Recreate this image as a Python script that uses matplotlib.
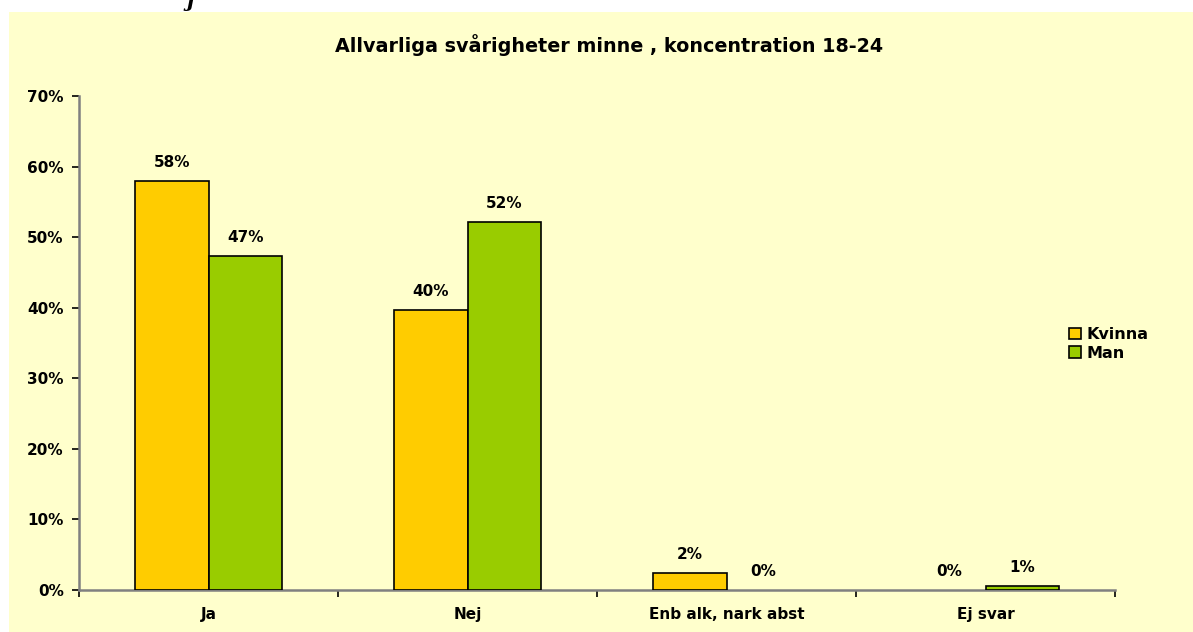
import numpy as np
import matplotlib.pyplot as plt
from matplotlib.patches import Rectangle

plt.rcParams['font.family'] = ['DejaVu Sans']
plt.rcParams['font.weight'] = 'bold'

# data
categories = ['Ja', 'Nej', 'Enb alk, nark abst', 'Ej svar']
kvinna = [57.9, 39.7, 2.4, 0.0]
man = [47.3, 52.1, 0.0, 0.6]
kvinna_labels = ['58%', '40%', '2%', '0%']
man_labels = ['47%', '52%', '0%', '1%']
series_names = ['Kvinna', 'Man']

bg = '#FFFFCC'
col_k = '#FFCC00'
col_m = '#99CC00'

fig = plt.figure(figsize=(11.93, 6.32), dpi=100)
fig.patch.set_facecolor('white')
# yellow chart area, like the excel chart box
box = Rectangle((9 / 1193, 0), 1, 1 - 12 / 632, transform=fig.transFigure,
                facecolor=bg, edgecolor='none', zorder=-5)
fig.add_artist(box)
# stray cut-off text from the page above (only its bottom shows)
fig.text(190 / 1193, 1 - 1 / 632, 'j', fontsize=15, style='italic', family='DejaVu Serif',
         ha='center', va='center')

ax = fig.add_axes([79 / 1193, 1 - 590 / 632, (1115 - 79) / 1193, (590 - 96) / 632])
ax.set_facecolor('none')
ax.set_zorder(2)

x = np.arange(len(categories))
w = 0.283
bars_k = ax.bar(x - w / 2, kvinna, w, color=col_k, edgecolor='black', linewidth=1.2,
                label=series_names[0], zorder=3)
bars_m = ax.bar(x + w / 2, man, w, color=col_m, edgecolor='black', linewidth=1.2,
                label=series_names[1], zorder=3)
# zero-height bars show no outline in the reference
for b in list(bars_k) + list(bars_m):
    if b.get_height() == 0:
        b.set_linewidth(0)

for bars, labs in [(bars_k, kvinna_labels), (bars_m, man_labels)]:
    for b, lab in zip(bars, labs):
        ax.annotate(lab, (b.get_x() + b.get_width() / 2, b.get_height()),
                    xytext=(0, 8), textcoords='offset points',
                    ha='center', va='bottom', fontsize=11, fontweight='bold')

ax.set_xlim(-0.5, len(categories) - 0.5)
ax.set_ylim(0, 70)
ax.set_yticks(np.arange(0, 71, 10))
ax.set_yticklabels([f'{v}%' for v in range(0, 71, 10)], fontsize=11, fontweight='bold')

# category labels in the middle, tick marks on the boundaries
ax.set_xticks(np.arange(-0.5, len(categories)))
ax.set_xticklabels([])
ax.set_xticks(x, minor=True)
ax.set_xticklabels(categories, minor=True, fontsize=11, fontweight='bold')
ax.tick_params(axis='x', which='minor', length=0, pad=12)
ax.tick_params(axis='x', which='major', length=5, width=1.2, color='black')
ax.tick_params(axis='y', length=5, width=1.2, color='black', pad=6)

for s in ['top', 'right']:
    ax.spines[s].set_visible(False)
for s in ['left', 'bottom']:
    ax.spines[s].set_color('#808080')
    ax.spines[s].set_linewidth(1.8)

fig.text(609 / 1193, 1 - 45 / 632, 'Allvarliga svårigheter minne , koncentration 18-24',
         ha='center', va='center', fontsize=13.8, fontweight='bold')

leg = fig.legend(handles=[bars_k, bars_m], labels=series_names,
                 loc='center left', bbox_to_anchor=(1055 / 1193, 1 - 344 / 632),
                 frameon=False, fontsize=11.5, handlelength=0.7, handleheight=0.7,
                 handletextpad=0.35, labelspacing=0.2)

fig.savefig('out.png', dpi=100, facecolor='white')
